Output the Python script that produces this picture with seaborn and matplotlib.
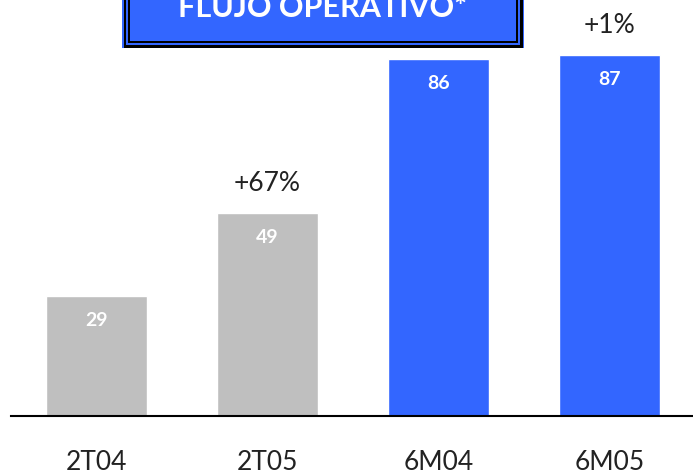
import matplotlib
matplotlib.use("Agg")
import matplotlib.pyplot as plt
import seaborn as sns
import pandas as pd
from matplotlib.patches import Rectangle

categories = ["2T04", "2T05", "6M04", "6M05"]
values = [29, 49, 86, 87]
groups = ["T", "T", "M", "M"]
changes = ["", "+67%", "", "+1%"]
title = "FLUJO OPERATIVO*"

GRAY = "#BFBFBF"
BLUE = "#3366FF"

sns.set_theme(style="white")
plt.rcParams["font.family"] = ["Lato", "DejaVu Sans"]

W, H = 693, 477
fig = plt.figure(figsize=(W / 100, H / 100), dpi=100)
ax = fig.add_axes([11 / W, 60 / H, (W - 11) / W, 417 / H])

df = pd.DataFrame({"cat": categories, "val": values, "grp": groups})
sns.barplot(data=df, x="cat", y="val", hue="grp", palette={"T": GRAY, "M": BLUE},
            width=0.59, dodge=False, legend=False, ax=ax, saturation=1)

ax.set_xlim(-0.5, 3.49)
ax.set_ylim(0, 100.5)
ax.set_xlabel("")
ax.set_ylabel("")
ax.set_yticks([])
for s in ["top", "right", "left"]:
    ax.spines[s].set_visible(False)
ax.spines["bottom"].set_color("black")
ax.spines["bottom"].set_linewidth(1.5)
ax.tick_params(axis="x", length=0, pad=23.5, labelsize=19, colors="#222222")

for i, v in enumerate(values):
    ax.annotate(str(v), (i, v), xytext=(0, -17), textcoords="offset points",
                ha="center", va="center", color="white", fontsize=14, fontweight="bold")
    if changes[i]:
        ax.annotate(changes[i], (i, v), xytext=(0, 22), textcoords="offset points",
                    ha="center", va="center", color="#222222", fontsize=19)

# title box (pixel coords from top-left)
def prect(x0, y0, x1, y1, color):
    fig.patches.append(Rectangle((x0 / W, 1 - y1 / H), (x1 - x0) / W, (y1 - y0) / H,
                                 transform=fig.transFigure, facecolor=color,
                                 edgecolor="none", zorder=5))

x0, x1, yb = 122, 524, 49
prect(x0, -20, x1, yb, BLUE)
prect(x0 + 1.5, -20, x1 - 1.5, yb - 0.5, "black")
prect(x0 + 4, -20, x1 - 4, yb - 3, BLUE)
prect(x0 + 6, -20, x1 - 6, yb - 5, "black")
prect(x0 + 8, -20, x1 - 8, yb - 7.5, BLUE)
fig.text((x0 + x1) / 2 / W, 1 - 17 / H, title, ha="center", va="baseline",
         color="white", fontsize=22, fontweight="bold", zorder=6)

fig.savefig("out.png", dpi=100)
